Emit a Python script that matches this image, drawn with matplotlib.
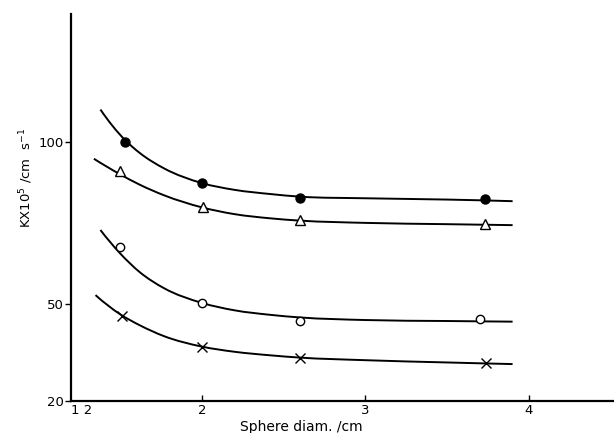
import matplotlib
matplotlib.use('Agg')
import matplotlib.pyplot as plt
import numpy as np
from matplotlib.path import Path
from matplotlib.patches import PathPatch

plt.rcParams['font.family'] = ['DejaVu Sans']
plt.rcParams['mathtext.fontset'] = 'dejavusans'

# ---- measured data points (markers) ----
filled_x = [1.53, 2.0, 2.6, 3.73]
filled_y = [100.1, 87.3, 82.6, 82.3]
tri_x = [1.50, 2.01, 2.6, 3.73]
tri_y = [91.0, 80.0, 75.9, 74.6]
circ_x = [1.50, 2.0, 2.6, 3.70]
circ_y = [67.4, 50.4, 44.7, 45.2]
cross_x = [1.51, 2.0, 2.6, 3.74]
cross_y = [46.1, 36.8, 33.4, 31.7]

# ---- points ----
filled_cx = [1.38, 1.53, 1.62, 1.77, 2.0, 2.2, 2.42, 2.6, 3.0, 3.5, 3.9]
filled_cy = [110.0, 100.6, 96.6, 91.8, 87.3, 85.2, 83.9, 83.1, 82.6, 82.2, 81.7]
tri_cx = [1.34, 1.5, 1.62, 1.77, 2.0, 2.2, 2.42, 2.6, 3.0, 3.5, 3.9]
tri_cy = [94.8, 90.0, 86.8, 83.5, 79.8, 77.7, 76.4, 75.7, 75.0, 74.6, 74.3]
circ_cx = [1.38, 1.5, 1.62, 1.77, 2.0, 2.2, 2.42, 2.6, 3.0, 3.5, 3.9]
circ_cy = [72.8, 65.6, 59.8, 54.8, 50.3, 48.0, 46.6, 45.8, 45.0, 44.7, 44.5]
cross_cx = [1.35, 1.5, 1.62, 1.77, 2.0, 2.2, 2.42, 2.6, 3.0, 3.5, 3.9]
cross_cy = [52.7, 46.8, 43.4, 40.0, 36.8, 35.2, 34.1, 33.4, 32.6, 31.9, 31.4]

x_ticks = [1.2, 2, 3, 4]
x_ticklabels = ['1 2', '2', '3', '4']
y_ticks = [20, 50, 100]
y_ticklabels = ['20', '50', '100']


def smooth_path(xs, ys):
    """Piecewise cubic Hermite curve through the read points, as Bezier path."""
    x = np.asarray(xs, float)
    y = np.asarray(ys, float)
    n = len(x)
    h = np.diff(x)
    d = np.diff(y) / h
    m = np.zeros(n)
    for i in range(1, n - 1):
        m[i] = (h[i - 1] * d[i] + h[i] * d[i - 1]) / (h[i - 1] + h[i])
    m[0] = ((2 * h[0] + h[1]) * d[0] - h[0] * d[1]) / (h[0] + h[1])
    m[-1] = ((2 * h[-1] + h[-2]) * d[-1] - h[-1] * d[-2]) / (h[-1] + h[-2])
    verts = [(x[0], y[0])]
    codes = [Path.MOVETO]
    for i in range(n - 1):
        dx = h[i] / 3.0
        verts += [(x[i] + dx, y[i] + m[i] * dx),
                  (x[i + 1] - dx, y[i + 1] - m[i + 1] * dx),
                  (x[i + 1], y[i + 1])]
        codes += [Path.CURVE4] * 3
    return Path(verts, codes)


fig = plt.figure(figsize=(6.14, 4.33), dpi=100)
ax = fig.add_axes([71 / 614, 32 / 433, 543 / 614, 387 / 433])

for cx, cy in [(filled_cx, filled_cy), (tri_cx, tri_cy),
               (circ_cx, circ_cy), (cross_cx, cross_cy)]:
    ax.add_patch(PathPatch(smooth_path(cx, cy), facecolor='none',
                           edgecolor='black', lw=1.4, zorder=2))

ax.plot(filled_x, filled_y, 'o', ms=6.5, mfc='black', mec='black', zorder=3)
ax.plot(tri_x, tri_y, '^', ms=6.5, mfc='white', mec='black', mew=1.0, zorder=3)
ax.plot(circ_x, circ_y, 'o', ms=6, mfc='white', mec='black', mew=1.0, zorder=3)
ax.plot(cross_x, cross_y, 'x', ms=7, mec='black', mew=1.0, zorder=3)

ax.set_xlim(1.2, 4.52)
ax.set_ylim(20, 139.5)

for s in ['top', 'right']:
    ax.spines[s].set_visible(False)
for s in ['left', 'bottom']:
    ax.spines[s].set_linewidth(1.6)

ax.set_xticks(x_ticks)
ax.set_xticklabels(x_ticklabels, fontsize=9.5)
ax.set_yticks(y_ticks)
ax.set_yticklabels(y_ticklabels, fontsize=9.5)
ax.tick_params(axis='x', direction='in', length=4, width=1, pad=2.5)
ax.tick_params(axis='y', direction='out', length=4, width=1, pad=1)
ax.get_xticklabels()[0].set_horizontalalignment('left')
ax.xaxis.get_major_ticks()[0].tick1line.set_visible(False)

ax.set_xlabel('Sphere diam. /cm', fontsize=10)
ax.xaxis.set_label_coords(0.4245, -0.049)
ax.set_ylabel(r'KX10$^5$ /cm  s$^{-1}$', fontsize=9.5)
ax.yaxis.set_label_coords(-0.066, 0.576)

fig.savefig('out.png', dpi=100)
